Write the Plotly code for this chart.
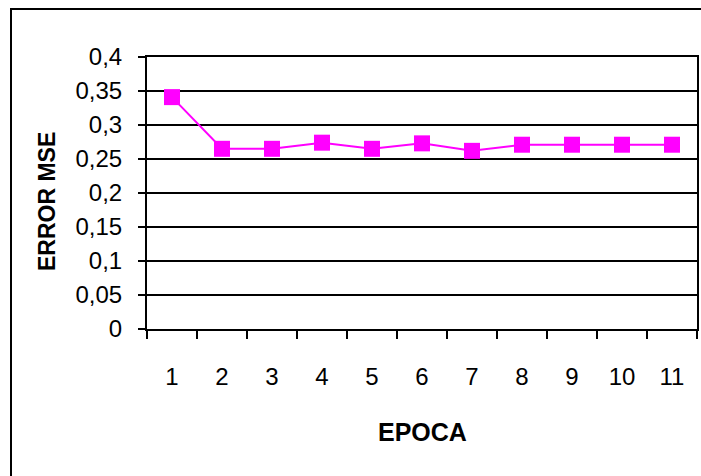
import plotly.graph_objects as go

epocas = ["1", "2", "3", "4", "5", "6", "7", "8", "9", "10", "11"]
error_mse = [0.341, 0.265, 0.265, 0.274, 0.265, 0.273, 0.262, 0.271, 0.271, 0.271, 0.271]
y_ticks = [0, 0.05, 0.1, 0.15, 0.2, 0.25, 0.3, 0.35, 0.4]
y_labels = ["0", "0,05", "0,1", "0,15", "0,2", "0,25", "0,3", "0,35", "0,4"]

W, H = 701, 476
L, R, T, B = 147, 4, 57, 147
pw, ph = W - L - R, H - T - B

def px_x(px):
    return (px - L) / pw

def px_y(py):
    return (H - B - py) / ph

fig = go.Figure()
fig.add_trace(go.Scatter(
    x=epocas, y=error_mse, mode="lines+markers",
    line=dict(color="#FF00FF", width=2),
    marker=dict(symbol="square", size=16, color="#FF00FF", line=dict(width=0)),
    showlegend=False, cliponaxis=False,
))

font = "Arial"
fig.update_layout(
    width=W, height=H,
    margin=dict(l=L, r=R, t=T, b=B, autoexpand=False),
    paper_bgcolor="white", plot_bgcolor="white",
    font=dict(family=font, color="black", size=24),
    xaxis=dict(
        type="category", tickson="boundaries",
        range=[-0.5, 10.5], automargin=False, tickangle=0,
        showline=True, linecolor="black", linewidth=2, mirror=True,
        ticks="outside", ticklen=8, tickwidth=2, tickcolor="black",
        showgrid=False, zeroline=False,
        tickfont=dict(size=24, family=font, color="black"), ticklabelstandoff=25,
    ),
    yaxis=dict(
        range=[0, 0.4], tickmode="array", tickvals=y_ticks, ticktext=y_labels,
        automargin=False,
        showline=True, linecolor="black", linewidth=2, mirror=True,
        ticks="outside", ticklen=7, tickwidth=2, tickcolor="black",
        showgrid=True, gridcolor="black", gridwidth=2, zeroline=False,
        tickfont=dict(size=24, family=font, color="black"), ticklabelstandoff=11,
    ),
    annotations=[
        dict(text="<b>EPOCA</b>", xref="paper", yref="paper",
             x=px_x(422), y=px_y(432), showarrow=False,
             font=dict(size=25, family=font), xanchor="center", yanchor="middle"),
        dict(text="<b>ERROR MSE</b>", xref="paper", yref="paper",
             x=px_x(47), y=px_y(202), showarrow=False, textangle=-90,
             font=dict(size=23, family=font), xanchor="center", yanchor="middle"),
    ],
    shapes=[
        dict(type="rect", xref="paper", yref="paper",
             x0=px_x(11), x1=px_x(710), y0=px_y(490), y1=px_y(9),
             line=dict(color="black", width=2), fillcolor="rgba(0,0,0,0)", layer="above"),
    ],
)

fig.write_html("out.html")
